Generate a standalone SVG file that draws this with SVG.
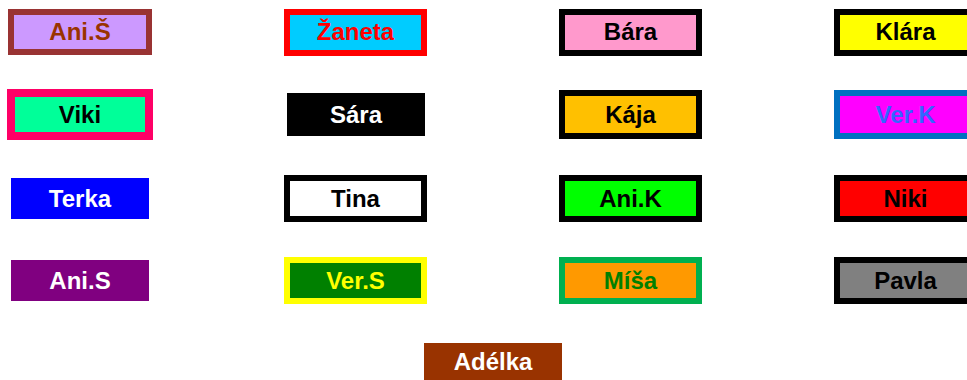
<svg xmlns="http://www.w3.org/2000/svg" width="967" height="380" viewBox="0 0 967 380">
<style>
text{font-family:"Liberation Sans",Arial,sans-serif;font-weight:bold;font-size:24px;text-anchor:middle}
.b6{stroke-width:6}
.b8{stroke-width:8}
</style>
<rect width="967" height="380" fill="#fff"/>
<g id="ani-s-caron"><rect x="11" y="12" width="138" height="40" fill="#CC99FF" stroke="#993333" class="b6"/><text x="80" y="40" fill="#993300">Ani.Š</text></g>
<g id="zaneta"><rect x="287" y="12" width="137" height="41" fill="#00CCFF" stroke="#FF0000" class="b6"/><text x="355.5" y="40" fill="#FF0000">Žaneta</text></g>
<g id="bara"><rect x="562" y="12" width="137" height="41" fill="#FF99CC" stroke="#000" class="b6"/><text x="630.5" y="40" fill="#000">Bára</text></g>
<g id="klara"><rect x="837" y="12" width="137" height="41" fill="#FFFF00" stroke="#000" class="b6"/><text x="905.5" y="40" fill="#000">Klára</text></g>
<g id="viki"><rect x="11" y="93" width="138" height="43" fill="#00FF99" stroke="#FF0066" class="b8"/><text x="80" y="123" fill="#000">Viki</text></g>
<g id="sara"><rect x="287" y="93" width="138" height="43" fill="#000"/><text x="356" y="123" fill="#fff">Sára</text></g>
<g id="kaja"><rect x="562" y="93" width="137" height="43" fill="#FFC000" stroke="#000" class="b6"/><text x="630.5" y="123" fill="#000">Kája</text></g>
<g id="ver-k"><rect x="837" y="93" width="137" height="43" fill="#FF00FF" stroke="#0070C0" class="b6"/><text x="905.5" y="123" fill="#3366FF">Ver.K</text></g>
<g id="terka"><rect x="11" y="178" width="138" height="41" fill="#0000FF"/><text x="80" y="207" fill="#fff">Terka</text></g>
<g id="tina"><rect x="287" y="178" width="137" height="41" fill="#fff" stroke="#000" class="b6"/><text x="355.5" y="207" fill="#000">Tina</text></g>
<g id="ani-k"><rect x="562" y="178" width="137" height="41" fill="#00FF00" stroke="#000" class="b6"/><text x="630.5" y="207" fill="#000">Ani.K</text></g>
<g id="niki"><rect x="837" y="178" width="137" height="41" fill="#FF0000" stroke="#000" class="b6"/><text x="905.5" y="207" fill="#000">Niki</text></g>
<g id="ani-s"><rect x="11" y="260" width="138" height="41" fill="#800080"/><text x="80" y="289" fill="#fff">Ani.S</text></g>
<g id="ver-s"><rect x="287" y="260" width="137" height="41" fill="#008000" stroke="#FFFF00" class="b6"/><text x="355.5" y="289" fill="#FFFF00">Ver.S</text></g>
<g id="misa"><rect x="562" y="260" width="137" height="41" fill="#FF9900" stroke="#00B050" class="b6"/><text x="630.5" y="289" fill="#008000">Míša</text></g>
<g id="pavla"><rect x="837" y="260" width="137" height="41" fill="#808080" stroke="#000" class="b6"/><text x="905.5" y="289" fill="#000">Pavla</text></g>
<g id="adelka"><rect x="424" y="343" width="138" height="41" fill="#993300"/><text x="493" y="370" fill="#fff">Adélka</text></g>
<g id="connectors"></g>
</svg>
